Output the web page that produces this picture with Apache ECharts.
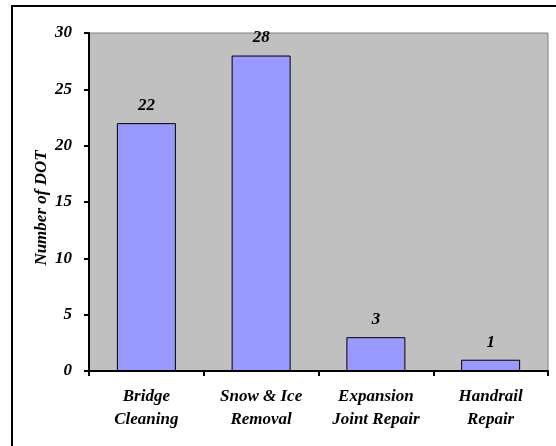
<!DOCTYPE html>
<html>
<head>
<meta charset="utf-8">
<script src="https://cdn.jsdelivr.net/npm/echarts@6/dist/echarts.min.js"></script>
<style>
  html, body { margin: 0; padding: 0; background: #fff; }
  #chart { width: 556px; height: 446px; }
</style>
</head>
<body>
<div id="chart"></div>
<script>
// Maintenance activities and how many DOTs perform each
const categories = ['Bridge\nCleaning', 'Snow & Ice\nRemoval', 'Expansion\nJoint Repair', 'Handrail\nRepair'];
const counts = [22, 28, 3, 1];
const yAxisTitle = 'Number of DOT';

const fontFamily = '"Liberation Serif", "Times New Roman", serif';
const textBase = { fontFamily: fontFamily, fontWeight: 'bold', fontStyle: 'italic', fontSize: 17, color: '#000' };

const chart = echarts.init(document.getElementById('chart'), null, { renderer: 'canvas' });

chart.setOption({
  animation: false,
  backgroundColor: '#fff',
  grid: {
    left: 89, top: 33, right: 8, bottom: 75,
    show: true,
    backgroundColor: '#C0C0C0',
    borderColor: '#808080',
    borderWidth: 1
  },
  xAxis: {
    type: 'category',
    data: categories,
    axisLine: { show: true, lineStyle: { color: '#000', width: 2 } },
    axisTick: { show: true, length: 5, lineStyle: { color: '#000', width: 2 } },
    axisLabel: Object.assign({}, textBase, { margin: 14, lineHeight: 23, interval: 0 }),
    splitLine: { show: false }
  },
  yAxis: {
    type: 'value',
    min: 0, max: 30, interval: 5,
    axisLine: { show: true, lineStyle: { color: '#000', width: 2 } },
    axisTick: { show: true, length: 5, lineStyle: { color: '#000', width: 2 } },
    axisLabel: Object.assign({}, textBase, { margin: 17 }),
    splitLine: { show: false }
  },
  series: [{
    type: 'bar',
    data: counts,
    barWidth: 59,
    itemStyle: { color: '#9999FF', borderColor: '#000', borderWidth: 1 },
    label: Object.assign({}, textBase, { show: true, position: 'top', distance: 9 })
  }],
  graphic: [
    {
      // chart-area frame; its right and bottom edges run past the canvas
      type: 'rect',
      shape: { x: 12, y: 6, width: 560, height: 460 },
      style: { fill: 'none', stroke: '#000', lineWidth: 2 },
      silent: true,
      z: 100
    },
    {
      type: 'text',
      x: 42, y: 208,
      rotation: Math.PI / 2,
      style: Object.assign({ text: yAxisTitle, align: 'center', verticalAlign: 'middle',
        font: 'italic bold 17px ' + fontFamily, fill: '#000' })
    }
  ]
});
</script>
</body>
</html>
